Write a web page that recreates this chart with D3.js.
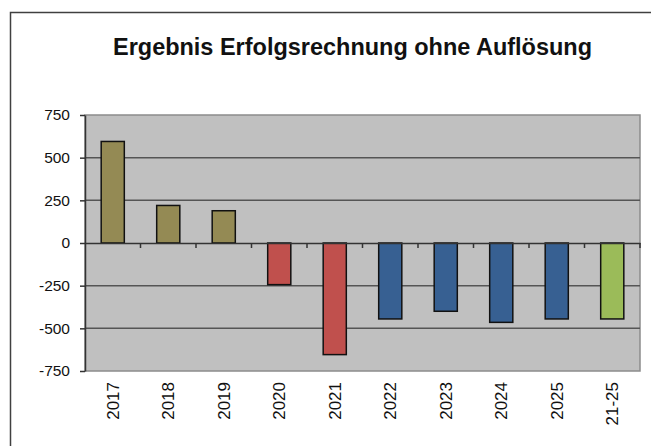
<!DOCTYPE html>
<html>
<head>
<meta charset="utf-8">
<script src="https://cdn.jsdelivr.net/npm/d3@7"></script>
<style>
  body { margin: 0; background: #fff; }
  svg { display: block; font-family: "Liberation Sans", Arial, sans-serif; }
</style>
</head>
<body>
<script>
// chart data
const categories = ["2017", "2018", "2019", "2020", "2021", "2022", "2023", "2024", "2025", "21-25"];
const values = [595, 220, 189, -244, -654, -445, -400, -465, -445, -445];
const groups = ["A", "A", "A", "B", "B", "C", "C", "C", "C", "D"];
const yTicks = [-750, -500, -250, 0, 250, 500, 750];
const title = "Ergebnis Erfolgsrechnung ohne Auflösung";

function renderChart() {
    const width = 651;
    const height = 446;
    const marginTop = 115;
    const marginRight = 11;
    const marginBottom = 75;
    const marginLeft = 85;

    const svg = d3.select("body").append("svg")
        .attr("width", width)
        .attr("height", height)
        .attr("viewBox", [0, 0, width, height]);

    // outer chart frame
    svg.append("rect")
        .attr("x", 10.5)
        .attr("y", 12.5)
        .attr("width", 650)
        .attr("height", 450)
        .attr("fill", "#fff")
        .attr("stroke", "#404040")
        .attr("stroke-width", 1.5);

    // title
    svg.append("text")
        .attr("x", 352.5)
        .attr("y", 55)
        .attr("text-anchor", "middle")
        .attr("font-size", 23)
        .attr("font-weight", "bold")
        .attr("fill", "#111")
        .attr("textLength", 479)
        .attr("lengthAdjust", "spacingAndGlyphs")
        .text(title);

    const x = d3.scaleBand()
        .domain(categories)
        .range([marginLeft, width - marginRight])
        .padding(0);

    const y = d3.scaleLinear()
        .domain([-750, 750])
        .range([height - marginBottom, marginTop]);

    const color = d3.scaleOrdinal()
        .domain(["A", "B", "C", "D"])
        .range(["#948A54", "#C0504D", "#376092", "#9BBB59"]);

    // plot background
    svg.append("rect")
        .attr("x", marginLeft)
        .attr("y", y(750))
        .attr("width", x.range()[1] - marginLeft)
        .attr("height", y(-750) - y(750))
        .attr("fill", "#C0C0C0")
        .attr("stroke", "#8c8c8c")
        .attr("stroke-width", 1.5);

    // gridlines
    svg.append("g")
        .selectAll("line")
        .data(yTicks.filter(d => d !== 0 && Math.abs(d) !== 750))
        .join("line")
        .attr("x1", marginLeft)
        .attr("x2", x.range()[1])
        .attr("y1", d => y(d))
        .attr("y2", d => y(d))
        .attr("stroke", "#555")
        .attr("stroke-width", 1.5);

    // y axis (plain hyphen for negatives, like the original)
    svg.append("g")
        .attr("transform", `translate(${marginLeft},0)`)
        .call(d3.axisLeft(y).tickValues(yTicks).tickFormat(d => String(d))
            .tickSizeInner(5).tickSizeOuter(0).tickPadding(10))
        .call(g => g.select(".domain").attr("stroke", "#333").attr("stroke-width", 1.5))
        .call(g => g.selectAll(".tick line").attr("stroke", "#333").attr("stroke-width", 1.5))
        .call(g => g.selectAll(".tick text")
            .attr("font-size", 15.5)
            .attr("fill", "#111")
            .attr("font-family", "Liberation Sans, Arial, sans-serif"));

    // bars
    const barW = x.bandwidth() / 2.4;
    svg.append("g")
        .selectAll("rect")
        .data(values)
        .join("rect")
        .attr("x", (d, i) => x(categories[i]) + (x.bandwidth() - barW) / 2)
        .attr("y", d => y(Math.max(0, d)))
        .attr("width", barW)
        .attr("height", d => Math.abs(y(d) - y(0)))
        .attr("fill", (d, i) => color(groups[i]))
        .attr("stroke", "#111")
        .attr("stroke-width", 1.5);

    // zero line with category ticks
    const zeroAxis = d3.axisBottom(x).tickSize(0).tickFormat("");
    svg.append("g")
        .attr("transform", `translate(0,${y(0)})`)
        .call(zeroAxis)
        .call(g => g.select(".domain").attr("stroke", "#333").attr("stroke-width", 1.5))
        .call(g => g.selectAll(".boundary")
            .data(categories)
            .join("line")
            .attr("class", "boundary")
            .attr("x1", d => x(d) + x.bandwidth())
            .attr("x2", d => x(d) + x.bandwidth())
            .attr("y1", 0)
            .attr("y2", 5)
            .attr("stroke", "#333")
            .attr("stroke-width", 1.5));

    // category labels, rotated
    svg.append("g")
        .selectAll("text")
        .data(categories)
        .join("text")
        .attr("transform", d => `translate(${x(d) + x.bandwidth() / 2},${y(-750) + 11}) rotate(-90)`)
        .attr("text-anchor", "end")
        .attr("dy", "0.35em")
        .attr("font-size", 17)
        .attr("fill", "#111")
        .text(d => d);
}

renderChart();
</script>
</body>
</html>
